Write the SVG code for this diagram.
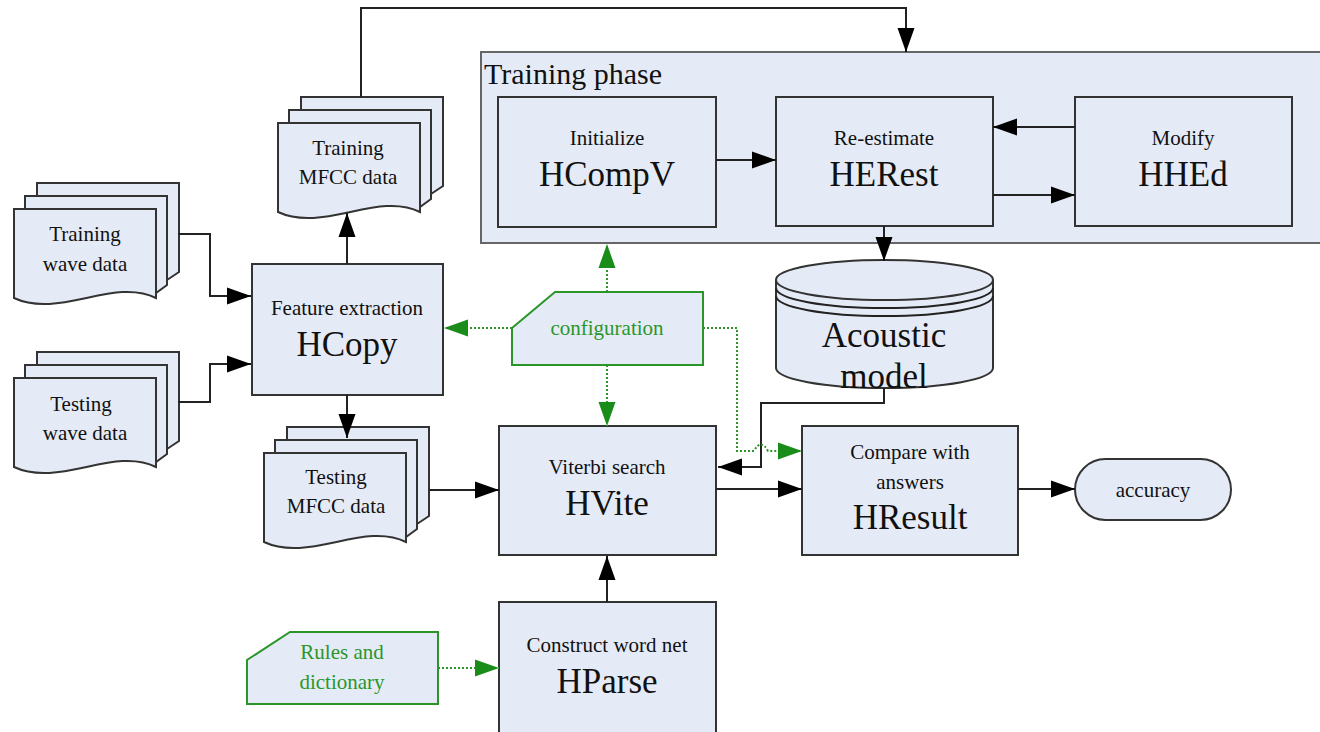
<svg xmlns="http://www.w3.org/2000/svg" xmlns:xlink="http://www.w3.org/1999/xlink" width="1320" height="732" viewBox="0 0 1320 732">
<style>
.box{fill:#e5ebf6;stroke:#333;stroke-width:2}
.gbox{fill:#e5ebf6;stroke:#2a962a;stroke-width:2}
.t{font-family:'Liberation Serif','DejaVu Serif','Noto Serif','Times New Roman',Times,serif;fill:#111;text-anchor:middle}
.s{font-size:21px}
.b{font-size:35px}
.g{fill:#2a962a}
.ln{fill:none;stroke:#222;stroke-width:2}
.gl{fill:none;stroke:#2a962a;stroke-width:2;stroke-dasharray:2 2}
</style>
<defs>
<marker id="ah" markerUnits="userSpaceOnUse" markerWidth="26" markerHeight="20" refX="24" refY="9" orient="auto">
<path d="M0,0.5 L24,9 L0,17.5 Z" fill="#000"/>
</marker>
<marker id="gh" markerUnits="userSpaceOnUse" markerWidth="26" markerHeight="20" refX="24" refY="9" orient="auto">
<path d="M0,0.5 L24,9 L0,17.5 Z" fill="#1a8c1a"/>
</marker>
<g id="docs">
<path class="box" d="M23,-26 H165 V63 L153,71 V-13 H23 Z"/>
<path class="box" d="M11,-13 H153 V76 L142,84 V0 H11 Z"/>
<path class="box" d="M0,0 H142 V89 C100,68 45,110 0,89 Z"/>
</g>
</defs>

<g id="training-phase">
<rect x="481" y="52" width="845" height="191" fill="#e5ebf6" stroke="#666" stroke-width="2"/>
<text class="t" x="484" y="84" font-size="30" text-anchor="start" style="text-anchor:start">Training phase</text>
</g>

<g id="training-wave">
<use xlink:href="#docs" x="14" y="209"/>
<text class="t s" x="85" y="241">Training</text>
<text class="t s" x="85" y="271">wave data</text>
</g>
<g id="testing-wave">
<use xlink:href="#docs" x="14" y="378"/>
<text class="t s" x="81" y="411">Testing</text>
<text class="t s" x="85" y="440">wave data</text>
</g>
<g id="training-mfcc">
<use xlink:href="#docs" x="278" y="123"/>
<text class="t s" x="348" y="155">Training</text>
<text class="t s" x="348" y="184">MFCC data</text>
</g>
<g id="testing-mfcc">
<use xlink:href="#docs" x="264" y="453"/>
<text class="t s" x="336" y="484">Testing</text>
<text class="t s" x="336" y="513">MFCC data</text>
</g>

<g id="hcopy">
<rect class="box" x="252" y="264" width="191" height="131"/>
<text class="t s" x="347" y="315">Feature extraction</text>
<text class="t b" x="347" y="356">HCopy</text>
</g>

<g id="hcompv">
<rect class="box" x="498" y="97" width="218" height="130"/>
<text class="t s" x="607" y="145">Initialize</text>
<text class="t b" x="607" y="186">HCompV</text>
</g>
<g id="herest">
<rect class="box" x="776" y="97" width="217" height="129"/>
<text class="t s" x="884" y="145">Re-estimate</text>
<text class="t b" x="884" y="186">HERest</text>
</g>
<g id="hhed">
<rect class="box" x="1075" y="97" width="217" height="129"/>
<text class="t s" x="1183" y="145">Modify</text>
<text class="t b" x="1183" y="186">HHEd</text>
</g>

<g id="configuration">
<path class="gbox" d="M512,328 L555,292 H703 V365 H512 Z"/>
<text class="t s g" x="607" y="335">configuration</text>
</g>

<g id="acoustic-model">
<path class="box" d="M776,280 V368 A108.5,20 0 0 0 993,368 V280"/>
<ellipse class="box" cx="884.5" cy="280" rx="108.5" ry="20"/>
<path class="ln" d="M776,288 A108.5,20 0 0 0 993,288"/>
<path class="ln" d="M776,296 A108.5,20 0 0 0 993,296"/>
<text class="t b" x="884" y="347">Acoustic</text>
<text class="t b" x="884" y="388">model</text>
</g>

<g id="hvite">
<rect class="box" x="499" y="426" width="217" height="129"/>
<text class="t s" x="607" y="474">Viterbi search</text>
<text class="t b" x="607" y="515">HVite</text>
</g>

<g id="hresult">
<rect class="box" x="802" y="426" width="216" height="129"/>
<text class="t s" x="910" y="459">Compare with</text>
<text class="t s" x="910" y="489">answers</text>
<text class="t b" x="910" y="529">HResult</text>
</g>

<g id="accuracy">
<rect class="box" x="1075" y="459" width="156" height="61" rx="30.5" ry="30.5"/>
<text class="t s" x="1153" y="497">accuracy</text>
</g>

<g id="hparse">
<rect class="box" x="499" y="602" width="217" height="140"/>
<text class="t s" x="607" y="652">Construct word net</text>
<text class="t b" x="607" y="693">HParse</text>
</g>

<g id="rules">
<path class="gbox" d="M247,667 V660 L290,632 H438 V704 H247 Z"/>
<text class="t s g" x="342" y="659">Rules and</text>
<text class="t s g" x="342" y="689">dictionary</text>
</g>

<g id="connectors">
<path class="ln" d="M361,97 V8 H906 V52" marker-end="url(#ah)"/>
<path class="ln" d="M178,234 H210 V296 H251" marker-end="url(#ah)"/>
<path class="ln" d="M178,402 H210 V364 H251" marker-end="url(#ah)"/>
<path class="ln" d="M347,264 V213" marker-end="url(#ah)"/>
<path class="ln" d="M347,395 V438" marker-end="url(#ah)"/>
<path class="ln" d="M429,490 H499" marker-end="url(#ah)"/>
<path class="ln" d="M716,160 H776" marker-end="url(#ah)"/>
<path class="ln" d="M1075,127 H993" marker-end="url(#ah)"/>
<path class="ln" d="M993,195 H1075" marker-end="url(#ah)"/>
<path class="ln" d="M884,226 V261" marker-end="url(#ah)"/>
<path class="ln" d="M884,388 V403 H761 V467 H718" marker-end="url(#ah)"/>
<path class="ln" d="M716,489 H802" marker-end="url(#ah)"/>
<path class="ln" d="M1018,489 H1075" marker-end="url(#ah)"/>
<path class="ln" d="M607,602 V556" marker-end="url(#ah)"/>
<path class="gl" d="M512,328 H444" marker-end="url(#gh)"/>
<path class="gl" d="M607,292 V244" marker-end="url(#gh)"/>
<path class="gl" d="M607,365 V426" marker-end="url(#gh)"/>
<path class="gl" d="M703,328 H737 V451 H754 Q761,438 768,451 H802" marker-end="url(#gh)"/>
<path class="gl" d="M438,668 H499" marker-end="url(#gh)"/>
</g>
</svg>
